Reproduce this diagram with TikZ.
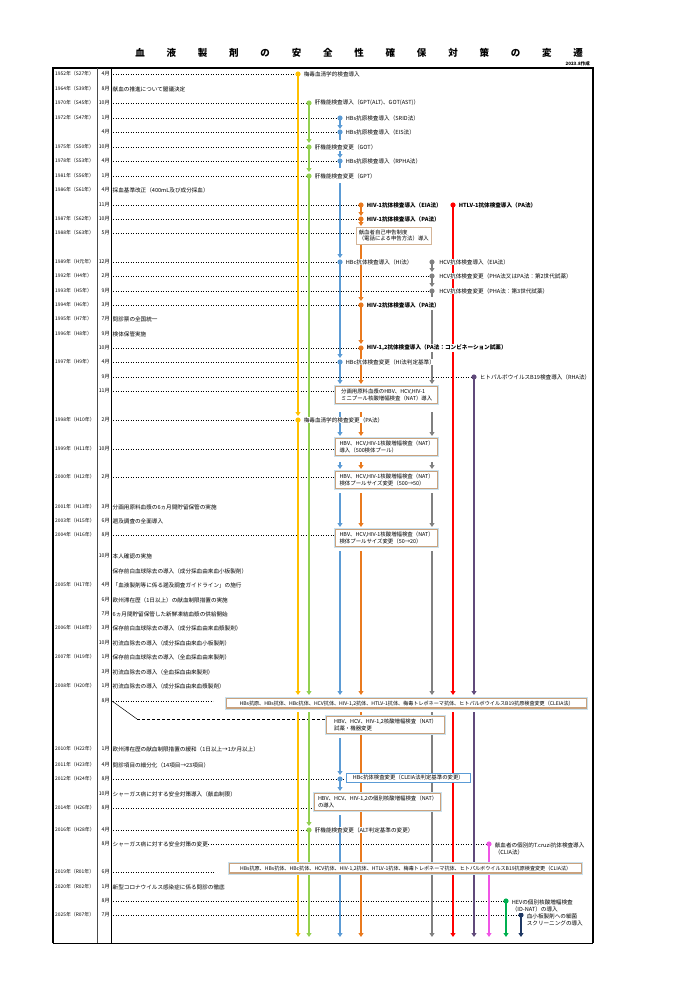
\documentclass[tikz,border=0pt]{standalone}
\usepackage{fontspec}
\setmainfont{Noto Sans CJK JP}
\usetikzlibrary{arrows.meta}
\definecolor{cYel}{HTML}{FFC000}
\definecolor{cGrn}{HTML}{92D050}
\definecolor{cBlu}{HTML}{5B9BD5}
\definecolor{cOrg}{HTML}{E97A1F}
\definecolor{cGry}{HTML}{808080}
\definecolor{cRed}{HTML}{FF0000}
\definecolor{cPur}{HTML}{604A7B}
\definecolor{cMag}{HTML}{F055E6}
\definecolor{cGr2}{HTML}{00B050}
\definecolor{cNav}{HTML}{1F3864}
\definecolor{cTan}{HTML}{C9A27E}
\definecolor{cSky}{HTML}{C9E1EE}
\tikzset{
  lead/.style={dotted, line width=0.5pt},
  vline/.style={line width=1.6pt, -{Triangle[length=4pt,width=5pt]}},
  tail/.style={line width=1.6pt},
  lab/.style={anchor=west, fill=white, inner sep=0.6pt, font=\fontsize{5.6}{6.6}\selectfont},
  blab/.style={lab, font=\fontsize{5.6}{6.6}\selectfont\bfseries},
  left text/.style={anchor=west, inner sep=0.5pt, font=\fontsize{5.6}{6.6}\selectfont},
  yr/.style={anchor=west, inner sep=0pt, font=\fontsize{4.9}{5.5}\selectfont},
  mon/.style={anchor=east, inner sep=0pt, font=\fontsize{5.2}{6}\selectfont},
  obox/.style={draw=cTan!80, fill=white, line width=0.6pt, anchor=north west, align=left,
    inner sep=2.5pt, font=\fontsize{5.4}{6.6}\selectfont},
  natbox/.style={obox, draw=cTan, line width=1.3pt, preaction={draw=cSky, line width=3.2pt}},
  longbox/.style={natbox, inner sep=2pt, font=\fontsize{5.1}{6}\selectfont},
  bbox/.style={obox, draw=cBlu, line width=0.7pt}
}
\newcommand{\dotat}[3]{\fill[#1] (#2,#3) circle (2.6);}
\begin{document}
\begin{tikzpicture}[x=1pt,y=-1pt]
\useasboundingbox (0,0) rectangle (700,989);
% Title
\foreach \ch [count=\i from 0] in {血,液,製,剤,の,安,全,性,確,保,対,策,の,変,遷}
  \node[font=\fontsize{9.5}{12}\selectfont\bfseries] at (140+\i*31.3,53) {\ch};
\node[anchor=east, inner sep=0pt, font=\fontsize{4.5}{5}\selectfont\bfseries] (made) at (590,64) {2023.8作成};
% Frame
\draw[line width=1.5pt] (53,943) -- (53,68) -- (593,68) -- (593,943);
\draw[line width=0.7pt] (53,943) -- (593,943);
\draw[line width=0.9pt, black!70] (97,68) -- (97,943);
\draw[line width=0.8pt] (111,68) -- (111,943);
% Years and months
\foreach \y/\yt in {74/1952年（S27年）,89/1964年（S39年）,103/1970年（S45年）,118/1972年（S47年）,
  147/1975年（S50年）,161/1978年（S53年）,176/1981年（S56年）,190/1986年（S61年）,219/1987年（S62年）,
  233/1988年（S63年）,262/1989年（H元年）,276/1992年（H4年）,291/1993年（H5年）,305/1994年（H6年）,
  319/1995年（H7年）,334/1996年（H8年）,362/1997年（H9年）,420/1998年（H10年）,449/1999年（H11年）,
  477/2000年（H12年）,507/2001年（H13年）,521/2003年（H15年）,535/2004年（H16年）,585/2005年（H17年）,
  628/2006年（H18年）,657/2007年（H19年）,686/2008年（H20年）,749/2010年（H22年）,765/2011年（H23年）,
  779/2012年（H24年）,808/2014年（H26年）,830/2016年（H28年）,872/2019年（R01年）,887/2020年（R02年）,
  915/2025年（R07年）}
  \node[yr] at (55,\y) {\yt};
\foreach \y/\m in {74/4,89/8,103/10,118/1,132/4,147/10,161/4,176/1,190/4,205/11,219/10,233/5,
  262/12,276/2,291/9,305/3,319/7,334/9,348/10,362/4,377/9,391/11,420/2,449/10,477/2,507/3,521/6,
  535/8,556/10,585/4,600/6,614/7,628/3,643/10,657/1,672/3,686/1,701/8,749/1,765/4,779/8,794/10,
  808/8,830/4,844/8,872/6,887/1,901/8,915/7}
  \node[mon] at (110,\y) {\m 月};
% Dotted leaders
\foreach \y/\xe in {74/298,103/309,118/340,132/340,147/309,161/340,176/309,205/361,219/361,
  233/356,262/340,276/432,291/432,305/361,348/361,362/340,377/474,391/335,420/298,449/335,
  477/335,535/335,701/213,779/345,808/313,830/309,844/489,872/215,901/506,915/521}
  \draw[lead] (113,\y) -- (\xe,\y);
\draw[line width=0.5pt] (112,701) -- (137,719);
\draw[lead, densely dashed] (137,719) -- (326,719);
% Yellow
\dotat{cYel}{298}{74} \draw[vline,cYel] (298,74) -- (298,416);
\dotat{cYel}{298}{420} \draw[vline,cYel] (298,420) -- (298,695);
\draw[vline,cYel] (298,712) -- (298,937);
% Green
\dotat{cGrn}{309}{103} \draw[vline,cGrn] (309,103) -- (309,143);
\dotat{cGrn}{309}{147} \draw[vline,cGrn] (309,147) -- (309,172);
\dotat{cGrn}{309}{176} \draw[vline,cGrn] (309,176) -- (309,695);
\draw[vline,cGrn] (309,712) -- (309,826);
\dotat{cGrn}{309}{830} \draw[vline,cGrn] (309,830) -- (309,937);
% Blue
\dotat{cBlu}{340}{118} \draw[vline,cBlu] (340,118) -- (340,129);
\dotat{cBlu}{340}{132} \draw[tail,cBlu] (340,132) -- (340,140);
\draw[vline,cBlu] (340,151) -- (340,158);
\dotat{cBlu}{340}{161} \draw[tail,cBlu] (340,161) -- (340,168);
\draw[vline,cBlu] (340,183) -- (340,258);
\dotat{cBlu}{340}{262} \draw[vline,cBlu] (340,262) -- (340,358);
\dotat{cBlu}{340}{362} \draw[vline,cBlu] (340,362) -- (340,384);
\draw[vline,cBlu] (340,412) -- (340,436);
\draw[vline,cBlu] (340,462) -- (340,469);
\draw[vline,cBlu] (340,493) -- (340,527);
\draw[vline,cBlu] (340,551) -- (340,695);
\draw[vline,cBlu] (340,738) -- (340,775);
\dotat{cBlu}{340}{779} \draw[vline,cBlu] (340,779) -- (340,791);
\draw[vline,cBlu] (340,815) -- (340,937);
% Orange
\dotat{cOrg}{361}{205} \draw[vline,cOrg] (361,205) -- (361,216);
\dotat{cOrg}{361}{219} \draw[vline,cOrg] (361,219) -- (361,226);
\draw[vline,cOrg] (361,244) -- (361,301);
\dotat{cOrg}{361}{305} \draw[vline,cOrg] (361,305) -- (361,344);
\dotat{cOrg}{361}{348} \draw[vline,cOrg] (361,348) -- (361,384);
\draw[vline,cOrg] (361,412) -- (361,436);
\draw[vline,cOrg] (361,462) -- (361,469);
\draw[vline,cOrg] (361,493) -- (361,527);
\draw[vline,cOrg] (361,551) -- (361,695);
\draw[vline,cOrg] (361,712) -- (361,937);
% Gray
\dotat{cGry}{432}{262} \draw[vline,cGry] (432,262) -- (432,272);
\dotat{cGry}{432}{276} \draw[vline,cGry] (432,276) -- (432,287);
\dotat{cGry}{432}{291} \draw[tail,cGry] (432,291) -- (432,297);
\draw[vline,cGry] (432,310) -- (432,384);
\draw[vline,cGry] (432,412) -- (432,436);
\draw[vline,cGry] (432,462) -- (432,469);
\draw[vline,cGry] (432,493) -- (432,527);
\draw[vline,cGry] (432,551) -- (432,695);
\draw[vline,cGry] (432,712) -- (432,937);
% Red, purple
\dotat{cRed}{453}{205} \draw[vline,cRed] (453,205) -- (453,695);
\draw[vline,cRed] (453,712) -- (453,937);
\dotat{cPur}{474}{377} \draw[vline,cPur] (474,377) -- (474,695);
\draw[vline,cPur] (474,712) -- (474,937);
% Magenta, green, navy
\dotat{cMag}{489}{844} \draw[vline,cMag] (489,844) -- (489,937);
\dotat{cGr2}{506}{901} \draw[vline,cGr2] (506,901) -- (506,937);
\dotat{cNav}{521}{915} \draw[vline,cNav] (521,915) -- (521,937);
% Left column measures
\foreach \y/\t in {89/献血の推進について閣議決定,190/採血基準改正（400mL及び成分採血）,319/問診票の全国統一,
  334/検体保管実施,507/分画用原料血漿の6ヵ月間貯留保管の実施,521/遡及調査の全面導入,556/本人確認の実施,
  571/保存前白血球除去の導入（成分採血由来血小板製剤）,585/「血液製剤等に係る遡及調査ガイドライン」の施行,
  600/欧州滞在歴（1日以上）の献血制限措置の実施,614/6ヵ月間貯留保管した新鮮凍結血漿の供給開始,
  628/保存前白血球除去の導入（成分採血由来血漿製剤）,643/初流血除去の導入（成分採血由来血小板製剤）,
  657/保存前白血球除去の導入（全血採血由来製剤）,672/初流血除去の導入（全血採血由来製剤）,
  686/初流血除去の導入（成分採血由来血漿製剤）,749/欧州滞在歴の献血制限措置の緩和（1日以上→1か月以上）,
  765/問診項目の細分化（14項目→23項目）,794/シャーガス病に対する安全対策導入（献血制限）,
  887/新型コロナウイルス感染症に係る問診の徹底}
  \node[left text] at (112,\y) {\t};
\node[left text, fill=white] (chagas) at (112,844) {シャーガス病に対する安全対策の変更};
% Test labels
\node[lab] (syph1) at (303,74) {梅毒血清学的検査導入};
\node[lab] (liv1) at (314,103) {肝機能検査導入（GPT(ALT)、GOT(AST)）};
\node[lab] (hbs1) at (345,118) {HBs抗原検査導入（SRID法）};
\node[lab] (hbs2) at (345,132) {HBs抗原検査導入（EIS法）};
\node[lab] (liv2) at (314,147) {肝機能検査変更（GOT）};
\node[lab] (hbs3) at (345,161) {HBs抗原検査導入（RPHA法）};
\node[lab] (liv3) at (314,176) {肝機能検査変更（GPT）};
\node[blab] (hiv1) at (366,205) {HIV-1抗体検査導入（EIA法）};
\node[blab] (htlv) at (458,205) {HTLV-1抗体検査導入（PA法）};
\node[blab] (hiv2) at (366,219) {HIV-1抗体検査導入（PA法）};
\node[lab] (hbc1) at (345,262) {HBc抗体検査導入（HI法）};
\node[lab] (hcv1) at (438.5,262) {HCV抗体検査導入（EIA法）};
\node[lab] (hcv2) at (438.5,276) {HCV抗体検査変更（PHA法又はPA法：第2世代試薬）};
\node[lab] (hcv3) at (438.5,291) {HCV抗体検査変更（PHA法：第3世代試薬）};
\node[blab] (hiv3) at (366,305) {HIV-2抗体検査導入（PA法）};
\node[blab] (hiv4) at (366,348) {HIV-1,2抗体検査導入（PA法：コンビネーション試薬）};
\node[lab] (hbc2) at (345,362) {HBc抗体検査変更（HI法判定基準）};
\node[lab] (b19) at (479,377) {ヒトパルボウイルスB19検査導入（RHA法）};
\node[lab] (syph2) at (303,420) {梅毒血清学的検査変更（PA法）};
\node[lab] (liv4) at (314,830) {肝機能検査変更（ALT判定基準の変更）};
\node[lab, align=left] (cruzi) at (494,849) {献血者の個別的T.cruzi抗体検査導入\\（CLIA法）};
\node[lab, align=left] (hev) at (511,906) {HEVの個別核酸増幅検査\\（ID-NAT）の導入};
\node[lab, align=left] (bact) at (526,920) {血小板製剤への細菌\\スクリーニングの導入};
% Boxes
\node[obox, minimum width=72pt] (self) at (356,227) {献血者自己申告制度\\（電話による申告方法）導入};
\node[natbox, minimum width=102pt] (nat0) at (335,386) {分画用原料血漿のHBV、HCV,HIV-1\\ミニプール核酸増幅検査（NAT）導入};
\node[natbox, minimum width=102pt] (nat1) at (335,438) {HBV、HCV,HIV-1核酸増幅検査（NAT）\\導入（500検体プール）};
\node[natbox, minimum width=102pt] (nat2) at (335,471) {HBV、HCV,HIV-1核酸増幅検査（NAT）\\検体プールサイズ変更（500→50）};
\node[natbox, minimum width=102pt] (nat3) at (335,529) {HBV、HCV,HIV-1核酸増幅検査（NAT）\\検体プールサイズ変更（50→20）};
\node[longbox, minimum width=360pt] (cleia) at (226,698) {HBs抗原、HBs抗体、HBc抗体、HCV抗体、HIV-1,2抗体、HTLV-1抗体、梅毒トレポネーマ抗体、ヒトパルボウイルスB19抗原検査変更（CLEIA法）};
\node[natbox, minimum width=118pt] (nat4) at (326,716) {HBV、HCV、HIV-1,2核酸増幅検査（NAT）\\試薬・機器変更};
\node[bbox, minimum width=124pt, inner sep=2pt] (hbc3) at (346,773) {HBc抗体検査変更（CLEIA法判定基準の変更）};
\node[natbox, minimum width=126pt] (nat5) at (314,793) {HBV、HCV、HIV-1,2の個別核酸増幅検査（NAT）\\の導入};
\node[longbox, minimum width=352pt] (clia) at (229,863) {HBs抗原、HBs抗体、HBc抗体、HCV抗体、HIV-1,2抗体、HTLV-1抗体、梅毒トレポネーマ抗体、ヒトパルボウイルスB19抗原検査変更（CLIA法）};
\end{tikzpicture}
\end{document}
